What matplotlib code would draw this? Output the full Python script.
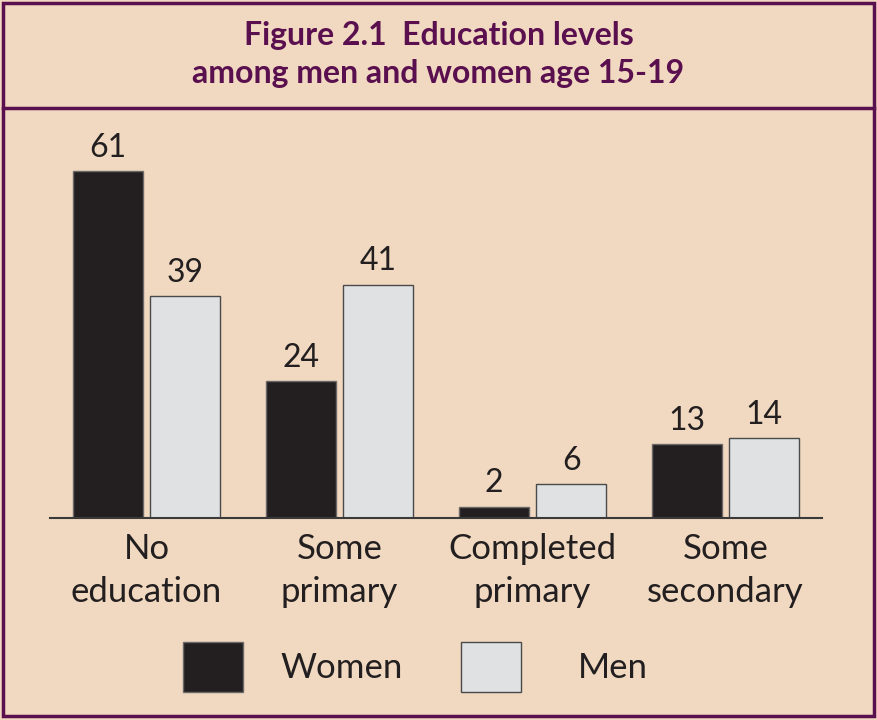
import matplotlib.pyplot as plt
from matplotlib.patches import Rectangle
import numpy as np

# Data
categories = ["No\neducation", "Some\nprimary", "Completed\nprimary", "Some\nsecondary"]
women = [61, 24, 2, 13]
men = [39, 41, 6, 14]

W, H = 877, 720
bg = "#F0D9C0"
purple = "#5A0F4E"
dark = "#231F20"
light = "#E0E1E3"
font = "Lato"

fig = plt.figure(figsize=(W / 100, H / 100), dpi=100)
fig.patch.set_facecolor(bg)

# Border and title box
fig.patches.append(Rectangle((3 / W, 4 / H), 871 / W, 713 / H, transform=fig.transFigure,
                             fill=False, edgecolor=purple, linewidth=2.5))
fig.add_artist(plt.Line2D([3 / W, 874 / W], [1 - 108 / H, 1 - 108 / H], color=purple, linewidth=2.5))

fig.text(0.5, 1 - 36 / H, "Figure 2.1  Education levels", ha="center", va="center",
         color=purple, fontsize=23, fontweight="bold", family=font)
fig.text(0.5, 1 - 74 / H, "among men and women age 15-19", ha="center", va="center",
         color=purple, fontsize=23, fontweight="bold", family=font)

# Axes: x from 50 to 822 px, y from 110 to 518 px
ax = fig.add_axes([50 / W, 1 - 518 / H, 772 / W, 408 / H])
ax.set_facecolor("none")
x = np.arange(len(categories))
bw = 0.36
b1 = ax.bar(x - 0.2, women, bw, color=dark, edgecolor="#6d6868", linewidth=1)
b2 = ax.bar(x + 0.2, men, bw, color=light, edgecolor="#4a4a4a", linewidth=1)
ax.set_xlim(-0.5, 3.5)
ax.set_ylim(0, 71.7)

for bars in (b1, b2):
    for b in bars:
        ax.annotate(f"{b.get_height():.0f}", (b.get_x() + b.get_width() / 2, b.get_height()),
                    xytext=(0, 6), textcoords="offset points", ha="center", va="bottom",
                    fontsize=23, color=dark, family=font)

for s in ["top", "left", "right"]:
    ax.spines[s].set_visible(False)
ax.spines["bottom"].set_color("#3a3a3a")
ax.spines["bottom"].set_linewidth(1.5)
ax.set_yticks([])
ax.set_xticks(x)
ax.set_xticklabels(categories, fontsize=25, color=dark, family=font, linespacing=1.42)
ax.tick_params(axis="x", length=0, pad=11)

# Legend
for px, col, ec, label, tx in [(183, dark, "#6d6868", "Women", 280), (461, light, "#4a4a4a", "Men", 578)]:
    fig.patches.append(Rectangle((px / W, 1 - 692 / H), 60 / W, 50 / H, transform=fig.transFigure,
                                 facecolor=col, edgecolor=ec, linewidth=1))
    fig.text(tx / W, 1 - 668 / H, label, ha="left", va="center", fontsize=25, color=dark, family=font)

fig.savefig("out.png", dpi=100, facecolor=bg)
